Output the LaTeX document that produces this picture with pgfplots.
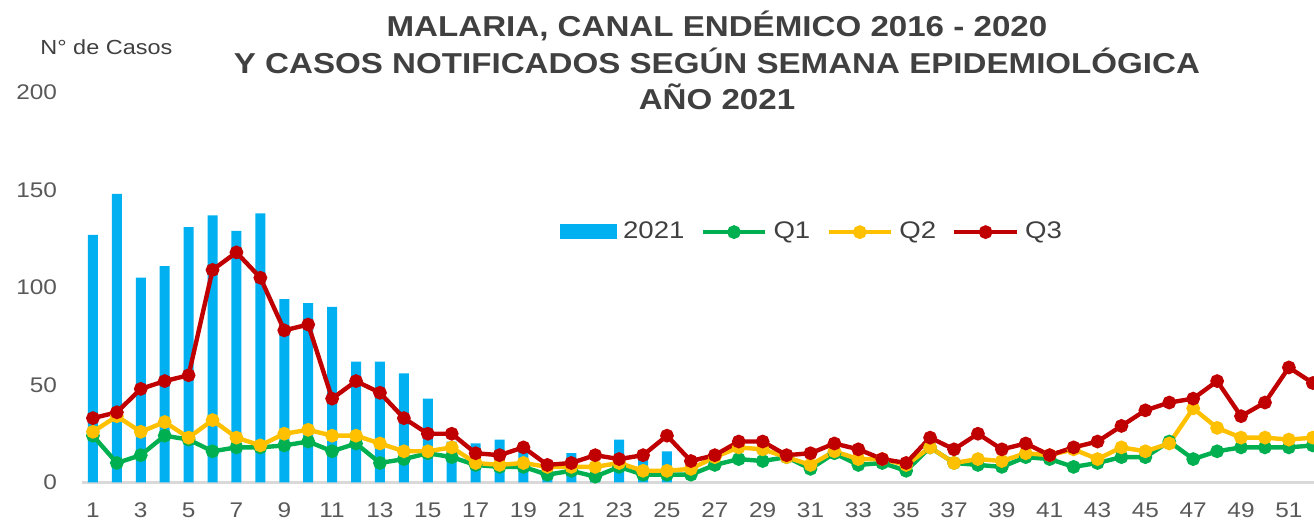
\documentclass[border=0pt]{standalone}
\usepackage{fontspec}
\setmainfont{Liberation Sans}[FakeStretch=1.15]
\usepackage{pgfplots}
\pgfplotsset{compat=1.18}
\definecolor{barblue}{HTML}{00B0F0}
\definecolor{qgreen}{HTML}{00B050}
\definecolor{qyellow}{HTML}{FFC000}
\definecolor{qred}{HTML}{C00000}
\definecolor{txt}{HTML}{404040}
\definecolor{tick}{HTML}{595959}
\definecolor{axisgray}{HTML}{D9D9D9}
\begin{document}
\begin{tikzpicture}
\begin{axis}[
  at={(0,0)}, anchor=south west,
  scale only axis, width=616.15pt, height=195pt,
  xmin=0.53, xmax=52.05, ymin=0, ymax=200,
  axis x line=bottom, axis y line=left,
  x axis line style={draw=axisgray, line width=1.2pt, -},
  y axis line style={draw=none},
  major tick length=0pt,
  xtick={1,3,...,51}, ytick={0,50,100,150,200},
  /pgf/number format/assume math mode=true,
  ticklabel style={font=\fontsize{10.6}{12}\selectfont, text=tick},
  yticklabel style={xshift=-8.8pt},
  xticklabel style={yshift=-6.5pt},
  legend style={draw=none, fill=none, at={(0.5935,0.642)}, anchor=center,
    legend columns=4, font=\fontsize{12}{14}\selectfont, text=txt,
    /tikz/every even column/.append style={column sep=6pt},
    /tikz/every odd column/.append style={column sep=1pt}},
  legend image code/.code={\draw[mark repeat=2,mark phase=2,#1] plot coordinates {(0cm,0cm) (0.55cm,0cm) (1.1cm,0cm)};},
]
\addplot[ybar, bar width=5pt, bar shift=0pt, fill=barblue, draw=none,
  legend image code/.code={\fill[barblue] (0cm,-0.12cm) rectangle (1.0cm,0.14cm);}]
coordinates {(1,127) (2,148) (3,105) (4,111) (5,131) (6,137) (7,129) (8,138) (9,94) (10,92)
(11,90) (12,62) (13,62) (14,56) (15,43) (16,21) (17,20) (18,22) (19,18) (20,7)
(21,15) (22,2) (23,22) (24,13) (25,16)};
\addlegendentry{2021}
\addplot[qgreen, line width=2.2pt, mark=*, mark size=2.3pt, mark options={solid}]
coordinates {(1,24) (2,10) (3,14) (4,24) (5,22) (6,16) (7,18) (8,18) (9,19) (10,21)
(11,16) (12,20) (13,10) (14,12) (15,15) (16,13) (17,9) (18,8) (19,8) (20,4)
(21,6) (22,3) (23,8) (24,4) (25,4) (26,4) (27,9) (28,12) (29,11) (30,13)
(31,7) (32,15) (33,9) (34,10) (35,6) (36,18) (37,10) (38,9) (39,8) (40,13)
(41,12) (42,8) (43,10) (44,13) (45,13) (46,21) (47,12) (48,16) (49,18) (50,18)
(51,18) (52,19)};
\addlegendentry{Q1}
\addplot[qyellow, line width=2.2pt, mark=*, mark size=2.3pt, mark options={solid}]
coordinates {(1,26) (2,34) (3,26) (4,31) (5,23) (6,32) (7,23) (8,19) (9,25) (10,27)
(11,24) (12,24) (13,20) (14,16) (15,16) (16,18) (17,10) (18,9) (19,10) (20,8)
(21,8) (22,8) (23,10) (24,6) (25,6) (26,7) (27,13) (28,18) (29,17) (30,13)
(31,9) (32,16) (33,12) (34,12) (35,9) (36,18) (37,10) (38,12) (39,11) (40,15)
(41,14) (42,17) (43,12) (44,18) (45,16) (46,20) (47,38) (48,28) (49,23) (50,23)
(51,22) (52,23)};
\addlegendentry{Q2}
\addplot[qred, line width=2.2pt, mark=*, mark size=2.3pt, mark options={solid}]
coordinates {(1,33) (2,36) (3,48) (4,52) (5,55) (6,109) (7,118) (8,105) (9,78) (10,81)
(11,43) (12,52) (13,46) (14,33) (15,25) (16,25) (17,15) (18,14) (19,18) (20,9)
(21,10) (22,14) (23,12) (24,14) (25,24) (26,11) (27,14) (28,21) (29,21) (30,14)
(31,15) (32,20) (33,17) (34,12) (35,10) (36,23) (37,17) (38,25) (39,17) (40,20)
(41,14) (42,18) (43,21) (44,29) (45,37) (46,41) (47,43) (48,52) (49,34) (50,41)
(51,59) (52,51)};
\addlegendentry{Q3}
\end{axis}
\node[align=center, font=\fontsize{14.4}{18.25}\selectfont\bfseries, text=txt] at (317.65pt,211pt)
  {MALARIA, CANAL ENDÉMICO 2016 - 2020\\Y CASOS NOTIFICADOS SEGÚN SEMANA EPIDEMIOLÓGICA\\AÑO 2021};
\node[anchor=west, inner sep=0pt, font=\fontsize{10.2}{13}\selectfont, text=txt] at (-20.85pt,217.75pt) {N° de Casos};
\pgfresetboundingbox
\path (-40.85pt,-19.75pt) rectangle (616.15pt,241.25pt);
\end{tikzpicture}
\end{document}
